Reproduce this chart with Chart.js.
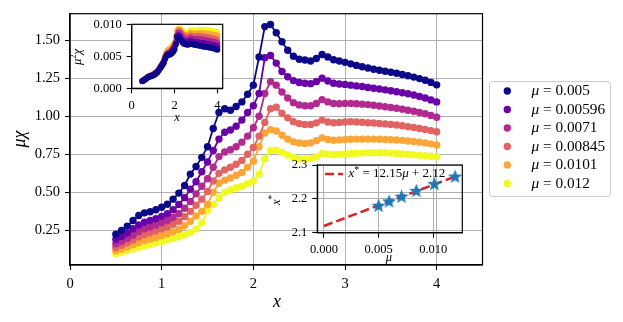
<!DOCTYPE html>
<html>
<head>
<meta charset="utf-8">
<script src="https://cdn.jsdelivr.net/npm/chart.js@4.4.0/dist/chart.umd.min.js"></script>
<style>
body { margin: 0; background: #fff; }
#wrap { position: relative; width: 623px; height: 322px; }
#wrap canvas { position: absolute; left: 0; top: 0; }
</style>
</head>
<body>
<div id="wrap">
  <canvas id="main" width="623" height="322"></canvas>
  <canvas id="inset1" width="623" height="322"></canvas>
  <canvas id="inset2" width="623" height="322"></canvas>
</div>
<script>
// --- data ---
var muValues = [0.005, 0.00596, 0.0071, 0.00845, 0.0101, 0.012];
var muLabels = ['0.005', '0.00596', '0.0071', '0.00845', '0.0101', '0.012'];
var colors = ['#0d0887', '#6a00a8', '#b12a90', '#e16462', '#fca636', '#f0f921'];

var xVals = [0.5, 0.5625, 0.625, 0.6875, 0.75, 0.8125, 0.875, 0.9375, 1, 1.0625,
  1.125, 1.1875, 1.25, 1.3125, 1.375, 1.4375, 1.5, 1.5625, 1.625, 1.6875,
  1.75, 1.8125, 1.875, 1.9375, 2, 2.0625, 2.125, 2.1875, 2.25, 2.3125,
  2.375, 2.4375, 2.5, 2.5625, 2.625, 2.6875, 2.75, 2.8125, 2.875, 2.9375,
  3, 3.0625, 3.125, 3.1875, 3.25, 3.3125, 3.375, 3.4375, 3.5, 3.5625,
  3.625, 3.6875, 3.75, 3.8125, 3.875, 3.9375, 4];

var chi005 = [0.224, 0.25, 0.278, 0.315, 0.348, 0.365, 0.372, 0.385, 0.402, 0.422,
  0.455, 0.495, 0.545, 0.62, 0.67, 0.73, 0.80, 0.92, 1.025, 1.05,
  1.04, 1.065, 1.095, 1.145, 1.205, 1.39, 1.59, 1.604, 1.55, 1.49,
  1.435, 1.395, 1.375, 1.37, 1.364, 1.38, 1.407, 1.39, 1.372, 1.364,
  1.355, 1.345, 1.335, 1.326, 1.318, 1.31, 1.303, 1.296, 1.29, 1.283,
  1.275, 1.267, 1.258, 1.248, 1.237, 1.223, 1.207];
var chi00596 = [0.191, 0.21, 0.232, 0.26, 0.285, 0.303, 0.315, 0.327, 0.342, 0.36,
  0.385, 0.42, 0.465, 0.52, 0.57, 0.635, 0.70, 0.775, 0.85, 0.895,
  0.91, 0.935, 0.975, 1.025, 1.07, 1.15, 1.385, 1.40, 1.35, 1.295,
  1.26, 1.235, 1.222, 1.218, 1.215, 1.228, 1.25, 1.232, 1.218, 1.213,
  1.21, 1.205, 1.2, 1.196, 1.19, 1.185, 1.18, 1.174, 1.168, 1.162,
  1.155, 1.148, 1.14, 1.13, 1.12, 1.108, 1.095];
var chi0071 = [0.161, 0.178, 0.197, 0.218, 0.243, 0.26, 0.272, 0.285, 0.30, 0.315,
  0.335, 0.36, 0.395, 0.44, 0.49, 0.54, 0.59, 0.665, 0.735, 0.765,
  0.78, 0.80, 0.83, 0.87, 0.925, 1.0, 1.15, 1.228, 1.205, 1.16,
  1.12, 1.09, 1.075, 1.07, 1.07, 1.085, 1.11, 1.095, 1.085, 1.083,
  1.085, 1.085, 1.083, 1.08, 1.077, 1.073, 1.068, 1.063, 1.058, 1.053,
  1.047, 1.04, 1.033, 1.025, 1.017, 1.006, 0.994];
var chi00845 = [0.137, 0.152, 0.168, 0.187, 0.207, 0.222, 0.234, 0.245, 0.258, 0.272,
  0.29, 0.31, 0.34, 0.375, 0.415, 0.455, 0.505, 0.575, 0.625, 0.648,
  0.665, 0.685, 0.71, 0.75, 0.795, 0.87, 0.96, 1.05, 1.06, 1.02,
  0.99, 0.965, 0.952, 0.947, 0.947, 0.957, 0.975, 0.963, 0.958, 0.96,
  0.963, 0.965, 0.963, 0.961, 0.958, 0.956, 0.953, 0.95, 0.947, 0.943,
  0.938, 0.932, 0.926, 0.92, 0.913, 0.906, 0.898];
var chi0101 = [0.115, 0.127, 0.14, 0.155, 0.17, 0.183, 0.193, 0.203, 0.215, 0.227,
  0.24, 0.256, 0.28, 0.31, 0.345, 0.375, 0.42, 0.50, 0.56, 0.58,
  0.595, 0.612, 0.63, 0.665, 0.705, 0.80, 0.89, 0.912, 0.903, 0.875,
  0.85, 0.832, 0.824, 0.822, 0.825, 0.84, 0.858, 0.848, 0.843, 0.845,
  0.848, 0.849, 0.85, 0.85, 0.85, 0.85, 0.849, 0.848, 0.847, 0.845,
  0.842, 0.838, 0.834, 0.83, 0.825, 0.819, 0.812];
var chi012 = [0.096, 0.106, 0.117, 0.128, 0.138, 0.149, 0.158, 0.168, 0.178, 0.188,
  0.197, 0.207, 0.22, 0.235, 0.258, 0.30, 0.38, 0.42, 0.465, 0.50,
  0.515, 0.53, 0.54, 0.556, 0.575, 0.62, 0.72, 0.775, 0.778, 0.762,
  0.745, 0.73, 0.72, 0.719, 0.722, 0.733, 0.755, 0.75, 0.748, 0.75,
  0.752, 0.755, 0.757, 0.758, 0.76, 0.761, 0.761, 0.76, 0.758, 0.756,
  0.753, 0.75, 0.747, 0.744, 0.741, 0.737, 0.734];
var series = [chi005, chi00596, chi0071, chi00845, chi0101, chi012];

// peak positions x* and the linear fit shown in the small inset
var peakX = [2.181, 2.194, 2.208, 2.225, 2.245, 2.267];
var fitSlope = 12.15, fitIntercept = 2.12;
var fitMu = [0, 0.012];

var mainXTicks = [0, 1, 2, 3, 4];
var mainYTicks = [0.25, 0.5, 0.75, 1.0, 1.25, 1.5];
var in1XTicks = [0, 2, 4];
var in1YTicks = [0, 0.005, 0.01];
var in2XTicks = [0, 0.005, 0.01];
var in2YTicks = [2.1, 2.2, 2.3];

// --- helpers ---
var SERIF = "'Liberation Serif', serif";
var GRID = '#b0b0b0';

function setTicks(list) {
  return function (s) { s.ticks = list.map(function (v) { return { value: v }; }); };
}

function drawRuns(ctx, runs, x, y, size, align) {
  // runs: [text, italic, sizeFactor, dy]
  var w = 0;
  runs.forEach(function (r) {
    ctx.font = (r[1] ? 'italic ' : '') + (size * (r[2] || 1)) + 'px ' + SERIF;
    w += ctx.measureText(r[0]).width;
  });
  var cx = align === 'center' ? x - w / 2 : x;
  ctx.textAlign = 'left';
  ctx.textBaseline = 'middle';
  runs.forEach(function (r) {
    ctx.font = (r[1] ? 'italic ' : '') + (size * (r[2] || 1)) + 'px ' + SERIF;
    ctx.fillText(r[0], cx, y + (r[3] || 0));
    cx += ctx.measureText(r[0]).width;
  });
}

function axisOpts(min, max, ticks, fmt, size, opts) {
  opts = opts || {};
  return {
    type: 'linear', min: min, max: max,
    afterBuildTicks: setTicks(ticks),
    afterFit: opts.fit,
    grid: {
      color: GRID, lineWidth: 1, drawOnChartArea: opts.grid !== false,
      tickColor: '#000', tickLength: 5, tickWidth: 1.1
    },
    border: { color: '#000', width: 1.2 },
    ticks: {
      font: { family: SERIF, size: size }, color: '#000', padding: opts.pad || 5,
      autoSkip: false, maxRotation: 0, callback: fmt
    }
  };
}

function boxPlugin(fillWhite) {
  return {
    id: 'box',
    beforeDraw: function (chart) {
      var ctx = chart.ctx, a = chart.chartArea;
      ctx.save();
      ctx.fillStyle = '#fff';
      if (fillWhite === 'all') ctx.fillRect(0, 0, chart.width, chart.height);
      else if (fillWhite) ctx.fillRect(a.left, a.top, a.right - a.left, a.bottom - a.top);
      ctx.restore();
    },
    afterDatasetsDraw: function (chart) {
      var ctx = chart.ctx, a = chart.chartArea;
      ctx.save();
      ctx.strokeStyle = '#000';
      ctx.lineWidth = 1.2;
      ctx.strokeRect(a.left, a.top, a.right - a.left, a.bottom - a.top);
      ctx.restore();
    }
  };
}

// --- main chart ---
var mainSets = series.map(function (s, i) {
  return {
    label: 'μ = ' + muLabels[i],
    data: xVals.map(function (x, j) { return { x: x, y: s[j] }; }),
    borderColor: colors[i], backgroundColor: colors[i],
    pointBackgroundColor: colors[i], pointBorderWidth: 0, pointRadius: 3.7,
    borderWidth: 1.8, tension: 0
  };
});

var mainLabels = {
  id: 'mainLabels',
  afterDraw: function (chart) {
    var ctx = chart.ctx;
    ctx.save();
    ctx.fillStyle = '#000';
    drawRuns(ctx, [['x', true]], 277, 302, 18, 'center');
    ctx.translate(20, 139);
    ctx.rotate(-Math.PI / 2);
    drawRuns(ctx, [['μχ', true]], 0, 0, 18, 'center');
    ctx.restore();

    // legend
    ctx.save();
    ctx.fillStyle = 'rgba(255,255,255,0.8)';
    ctx.strokeStyle = '#cccccc';
    ctx.lineWidth = 1;
    ctx.beginPath();
    ctx.roundRect(489.5, 81.5, 121, 115, 3);
    ctx.fill();
    ctx.stroke();
    muLabels.forEach(function (m, i) {
      var y = 91 + i * 18.5;
      ctx.fillStyle = colors[i];
      ctx.beginPath();
      ctx.arc(507.3, y, 3.7, 0, Math.PI * 2);
      ctx.fill();
      ctx.fillStyle = '#000';
      drawRuns(ctx, [['μ', true], [' = ' + m, false]], 531.5, y, 15.3, 'left');
    });
    ctx.restore();
  }
};

new Chart(document.getElementById('main'), {
  type: 'line',
  data: { datasets: mainSets },
  options: {
    responsive: false, animation: false, devicePixelRatio: 1,
    layout: { padding: { left: 0, top: 12, right: 140.5, bottom: 0 } },
    plugins: { legend: { display: false }, tooltip: { enabled: false } },
    scales: {
      x: axisOpts(0, 4.5, mainXTicks, function (v) { return String(v); }, 14.5,
        { fit: function (s) { s.height = 57; } }),
      y: axisOpts(0.022, 1.675, mainYTicks, function (v) { return v.toFixed(2); }, 14.5,
        { fit: function (s) { s.width = 70; } })
    }
  },
  plugins: [boxPlugin('all'), mainLabels]
});

// --- inset 1: mu^2 chi ---
var in1Sets = series.map(function (s, i) {
  return {
    data: xVals.map(function (x, j) { return { x: x, y: s[j] * muValues[i] }; }),
    borderColor: colors[i], backgroundColor: colors[i],
    pointBackgroundColor: colors[i], pointBorderWidth: 0, pointRadius: 3,
    borderWidth: 1.6, tension: 0
  };
});

var in1Labels = {
  id: 'in1Labels',
  afterDraw: function (chart) {
    var ctx = chart.ctx;
    ctx.save();
    ctx.fillStyle = '#000';
    drawRuns(ctx, [['x', true]], 177, 118, 12.5, 'center');
    ctx.translate(78, 57);
    ctx.rotate(-Math.PI / 2);
    drawRuns(ctx, [['μ', true], ['2', false, 0.7, -4], ['χ', true]], 0, 0, 12.5, 'center');
    ctx.restore();
  }
};

new Chart(document.getElementById('inset1'), {
  type: 'line',
  data: { datasets: in1Sets },
  options: {
    responsive: false, animation: false, devicePixelRatio: 1,
    layout: { padding: { left: 91.7, top: 24.3, right: 400.3, bottom: 203.7 } },
    plugins: { legend: { display: false }, tooltip: { enabled: false } },
    scales: {
      x: axisOpts(0, 4.25, in1XTicks, function (v) { return String(v); }, 12.5,
        { grid: false, fit: function (s) { s.height = 30; } }),
      y: axisOpts(0, 0.01, in1YTicks, function (v) { return v.toFixed(3); }, 12.5,
        { grid: false, fit: function (s) { s.width = 40; } })
    }
  },
  plugins: [boxPlugin(true), in1Labels]
});

// --- inset 2: peak position vs mu ---
function makeStar(r, color) {
  var c = document.createElement('canvas');
  var s = Math.ceil(r * 2 + 2);
  c.width = s; c.height = s;
  var g = c.getContext('2d');
  g.fillStyle = color;
  g.beginPath();
  for (var k = 0; k < 10; k++) {
    var rr = k % 2 ? r * 0.42 : r;
    var a = -Math.PI / 2 + k * Math.PI / 5;
    g.lineTo(s / 2 + rr * Math.cos(a), s / 2 + rr * Math.sin(a) + 0.8);
  }
  g.closePath();
  g.fill();
  return c;
}
var star = makeStar(7.5, '#1f77b4');

var in2Labels = {
  id: 'in2Labels',
  afterDraw: function (chart) {
    var ctx = chart.ctx;
    ctx.save();
    ctx.fillStyle = '#000';
    drawRuns(ctx, [['μ', true]], 389, 258, 12.5, 'center');
    ctx.save();
    ctx.translate(277, 200);
    ctx.rotate(-Math.PI / 2);
    drawRuns(ctx, [['x', true], ['*', false, 0.75, -4]], 0, 0, 12.5, 'center');
    ctx.restore();
    // legend entry
    ctx.strokeStyle = '#d62728';
    ctx.lineWidth = 2.6;
    ctx.setLineDash([9, 4]);
    ctx.beginPath();
    ctx.moveTo(325, 174);
    ctx.lineTo(343, 174);
    ctx.stroke();
    ctx.setLineDash([]);
    drawRuns(ctx, [['x', true], ['*', false, 0.75, -4], [' = 12.15', false], ['μ', true], [' + 2.12', false]],
      348.5, 174, 13, 'left');
    ctx.restore();
  }
};

new Chart(document.getElementById('inset2'), {
  type: 'line',
  data: {
    datasets: [
      {
        data: muValues.map(function (m, i) { return { x: m, y: peakX[i] }; }),
        showLine: false, pointStyle: star, pointRadius: 7, order: 0
      },
      {
        data: fitMu.map(function (m) { return { x: m, y: fitIntercept + fitSlope * m }; }),
        borderColor: '#d62728', borderWidth: 2.6, borderDash: [9, 4],
        pointRadius: 0, order: 1
      }
    ]
  },
  options: {
    responsive: false, animation: false, devicePixelRatio: 1,
    layout: { padding: { left: 277.3, top: 165, right: 160.7, bottom: 59.3 } },
    plugins: { legend: { display: false }, tooltip: { enabled: false } },
    scales: {
      x: axisOpts(-0.000613, 0.01266, in2XTicks, function (v) { return v.toFixed(3); }, 12.5,
        { fit: function (s) { s.height = 30; } }),
      y: axisOpts(2.1, 2.3, in2YTicks, function (v) { return v.toFixed(1); }, 12.5,
        { fit: function (s) { s.width = 40; } })
    }
  },
  plugins: [boxPlugin(false), in2Labels]
});
</script>
</body>
</html>
